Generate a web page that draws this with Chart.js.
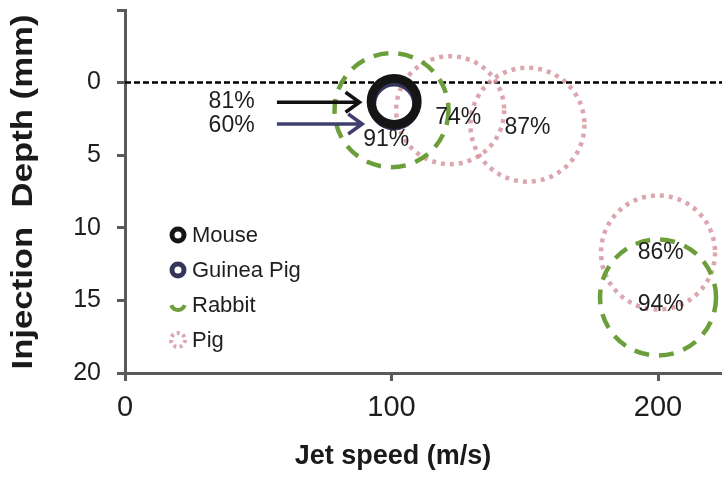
<!DOCTYPE html>
<html>
<head>
<meta charset="utf-8">
<script src="https://cdn.jsdelivr.net/npm/chart.js@4.4.1/dist/chart.umd.min.js"></script>
<style>
  html, body { margin: 0; padding: 0; background: #fff; }
</style>
</head>
<body>
<canvas id="chart" width="722" height="477"></canvas>
<script>
// data
const species = ['Mouse', 'Guinea Pig', 'Rabbit', 'Pig'];
const mouseSpeed = [101];
const mouseDepth = [1.3];
const guineaSpeed = [101];
const guineaDepth = [1.5];
const rabbitSpeed = [100, 200];
const rabbitDepth = [1.9, 14.8];
const pigSpeed = [122, 151, 200];
const pigDepth = [1.9, 2.9, 11.7];

// percentage annotations and where they sit (data units)
const noteText = ['81%', '60%', '91%', '74%', '87%', '86%', '94%'];
const noteSpeed = [40, 40, 98, 125, 151, 201, 201];
const noteDepth = [1.3, 2.95, 3.9, 2.4, 3.1, 11.7, 15.3];

// arrows pointing at the mouse / guinea pig rings
const arrowFrom = [57, 57];
const arrowTo = [88, 89];
const arrowDepth = [1.35, 2.85];

const xTicks = [0, 100, 200];
const yTicks = [0, 5, 10, 15, 20];

const colors = ['#151515', '#35355c', '#6c9f3b', 'rgba(214,150,160,0.85)'];
const FONT = "'Liberation Sans', Arial, sans-serif";

function pts(xs, ys) {
  return xs.map((x, i) => ({ x: x, y: ys[i] }));
}

// apply the dash of each dataset to its circles
const ringDash = {
  id: 'ringDash',
  beforeDatasetDraw(chart, args) {
    const ds = chart.data.datasets[args.index];
    chart.ctx.save();
    chart.ctx.setLineDash(ds.ringDash || []);
    chart.ctx.lineCap = 'butt';
  },
  afterDatasetDraw(chart) {
    chart.ctx.restore();
  }
};

const extras = {
  id: 'extras',
  beforeDatasetsDraw(chart) {
    const { ctx, chartArea, scales } = chart;
    const y0 = scales.y.getPixelForValue(0);
    ctx.save();
    ctx.strokeStyle = '#000';
    ctx.lineWidth = 2.5;
    ctx.setLineDash([6, 3]);
    ctx.beginPath();
    ctx.moveTo(chartArea.left, y0);
    ctx.lineTo(chartArea.right, y0);
    ctx.stroke();
    ctx.restore();
  },
  afterDraw(chart) {
    const { ctx, scales } = chart;
    const xs = scales.x, ys = scales.y;
    ctx.save();

    // arrows
    const arrowCol = ['#111', '#3f3f6e'];
    arrowFrom.forEach((a, i) => {
      const x1 = xs.getPixelForValue(a), x2 = xs.getPixelForValue(arrowTo[i]);
      const y = ys.getPixelForValue(arrowDepth[i]);
      ctx.strokeStyle = arrowCol[i];
      ctx.lineWidth = 3.5;
      ctx.beginPath();
      ctx.moveTo(x1, y);
      ctx.lineTo(x2, y);
      ctx.moveTo(x2 - 14, y - 10);
      ctx.lineTo(x2, y);
      ctx.lineTo(x2 - 14, y + 10);
      ctx.stroke();
    });

    // percentage labels
    ctx.fillStyle = '#1e1e1e';
    ctx.font = '23px ' + FONT;
    ctx.textAlign = 'center';
    ctx.textBaseline = 'middle';
    noteText.forEach((t, i) => {
      ctx.fillText(t, xs.getPixelForValue(noteSpeed[i]), ys.getPixelForValue(noteDepth[i]));
    });

    // legend
    const lx = 178, ly = 235, step = 35;
    species.forEach((name, i) => {
      const y = ly + i * step;
      ctx.save();
      ctx.strokeStyle = colors[i];
      ctx.beginPath();
      if (i < 2) {
        ctx.lineWidth = 5;
        ctx.arc(lx, y, 6, 0, Math.PI * 2);
      } else if (i === 2) {
        ctx.lineWidth = 4;
        ctx.arc(lx, y - 2, 7, 0.1 * Math.PI, 0.9 * Math.PI);
      } else {
        ctx.lineWidth = 4;
        ctx.setLineDash([3, 3.3]);
        ctx.arc(lx, y, 7, 0, Math.PI * 2);
      }
      ctx.stroke();
      ctx.restore();
      ctx.fillStyle = '#1e1e1e';
      ctx.font = '22px ' + FONT;
      ctx.textAlign = 'left';
      ctx.fillText(name, lx + 14, y + 1);
    });

    // axis titles
    ctx.fillStyle = '#1a1a1a';
    ctx.font = 'bold 27px ' + FONT;
    ctx.textAlign = 'center';
    ctx.fillText('Jet speed (m/s)', 393, 457);

    ctx.translate(24, 192);
    ctx.rotate(-Math.PI / 2);
    ctx.font = 'bold 29px ' + FONT;
    const yTitle = 'Injection  Depth (mm)';
    const w = ctx.measureText(yTitle).width;
    ctx.scale(355 / w, 1);
    ctx.fillText(yTitle, 0, 0);
    ctx.restore();
  }
};

new Chart(document.getElementById('chart'), {
  type: 'scatter',
  data: {
    datasets: [
      { label: species[0], data: pts(mouseSpeed, mouseDepth), pointRadius: 23, pointBorderWidth: 9,
        pointBorderColor: colors[0], pointBackgroundColor: 'rgba(0,0,0,0)', ringDash: [], clip: false },
      { label: species[1], data: pts(guineaSpeed, guineaDepth), pointRadius: 22, pointBorderWidth: 8,
        pointBorderColor: colors[1], pointBackgroundColor: 'rgba(0,0,0,0)', ringDash: [], clip: false },
      { label: species[2], data: pts(rabbitSpeed, rabbitDepth), pointRadius: [57, 58], pointBorderWidth: 4.5,
        pointBorderColor: colors[2], pointBackgroundColor: 'rgba(0,0,0,0)', ringDash: [15, 10], clip: false },
      { label: species[3], data: pts(pigSpeed, pigDepth), pointRadius: [54, 57, 57], pointBorderWidth: 4.5,
        pointBorderColor: colors[3], pointBackgroundColor: 'rgba(0,0,0,0)', ringDash: [4, 5], clip: false }
    ]
  },
  options: {
    responsive: false,
    animation: false,
    events: [],
    layout: { autoPadding: false, padding: { top: 10, right: 0, left: 0, bottom: 0 } },
    plugins: { legend: { display: false }, tooltip: { enabled: false } },
    scales: {
      x: {
        type: 'linear',
        min: 0,
        max: 224,
        afterBuildTicks: (s) => { s.ticks = xTicks.map(v => ({ value: v })); },
        afterFit: (s) => { s.height = 104; s.paddingLeft = 0; s.paddingRight = 0; },
        border: { display: true, color: '#5a5a5a', width: 3 },
        grid: { drawOnChartArea: false, drawTicks: true, tickLength: 8, color: '#5a5a5a', lineWidth: 3 },
        ticks: { color: '#1e1e1e', font: { family: FONT, size: 29 }, padding: 10, maxRotation: 0 }
      },
      y: {
        type: 'linear',
        reverse: true,
        min: -5,
        max: 20,
        afterBuildTicks: (s) => { s.ticks = [-5].concat(yTicks).map(v => ({ value: v })); },
        afterFit: (s) => { s.width = 125; s.paddingTop = 0; s.paddingBottom = 0; },
        border: { display: true, color: '#5a5a5a', width: 3 },
        grid: { drawOnChartArea: false, drawTicks: true, tickLength: 8, color: '#5a5a5a', lineWidth: 3 },
        ticks: {
          color: '#1e1e1e', font: { family: FONT, size: 25 }, padding: 16,
          callback: (v) => (v === -5 ? '' : v)
        }
      }
    }
  },
  plugins: [ringDash, extras]
});
</script>
</body>
</html>
